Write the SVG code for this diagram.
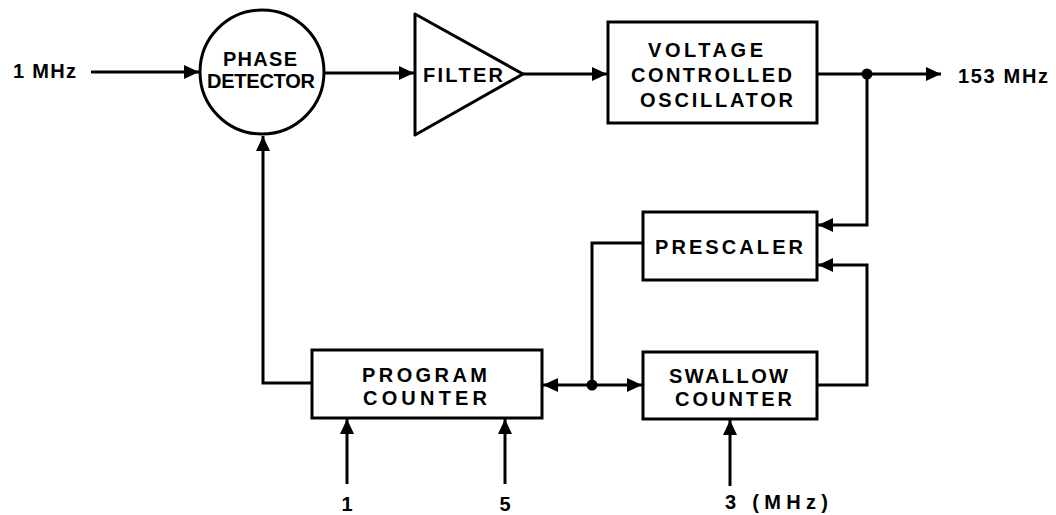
<svg xmlns="http://www.w3.org/2000/svg" width="1056" height="515" viewBox="0 0 1056 515">
<style>
.shape{fill:#fff;stroke:#000;stroke-width:3}
.wire{fill:none;stroke:#000;stroke-width:3}
.t{font-family:"Liberation Sans",Arial,sans-serif;font-weight:bold;font-size:20px;fill:#000}
.dot{fill:#000}
</style>
<defs>
<marker id="ah" markerUnits="userSpaceOnUse" markerWidth="16" markerHeight="15" refX="15" refY="7" orient="auto">
<path d="M0,0 L15,7 L0,14 z" fill="#000"/>
</marker>
</defs>
<rect width="1056" height="515" fill="#fff"/>
<g id="connectors">
<path class="wire" d="M91,72 H199" marker-end="url(#ah)"/>
<path class="wire" d="M324,73 H414" marker-end="url(#ah)"/>
<path class="wire" d="M523,74 H607" marker-end="url(#ah)"/>
<path class="wire" d="M817,74 H941" marker-end="url(#ah)"/>
<path class="wire" d="M867,74 V225 H818" marker-end="url(#ah)"/>
<path class="wire" d="M817,385 H867 V265 H818" marker-end="url(#ah)"/>
<path class="wire" d="M643,243 H592 V385"/>
<path class="wire" d="M592,385 H543" marker-end="url(#ah)"/>
<path class="wire" d="M592,385 H642" marker-end="url(#ah)"/>
<path class="wire" d="M312,383 H263 V136" marker-end="url(#ah)"/>
<path class="wire" d="M347,484 V419" marker-end="url(#ah)"/>
<path class="wire" d="M505,484 V419" marker-end="url(#ah)"/>
<path class="wire" d="M730,486 V420" marker-end="url(#ah)"/>
<circle class="dot" cx="867" cy="74" r="5.5"/>
<circle class="dot" cx="592" cy="385" r="5.5"/>
</g>
<g id="in1">
<text class="t" x="13" y="78" font-size="18" textLength="63" lengthAdjust="spacing">1 MHz</text>
</g>
<g id="phase-detector">
<circle class="shape" cx="262" cy="72" r="62"/>
<text class="t" x="223" y="66" textLength="74" lengthAdjust="spacing">PHASE</text>
<text class="t" x="207" y="88" textLength="108" lengthAdjust="spacing">DETECTOR</text>
</g>
<g id="filter">
<path class="shape" d="M415,14 L415,135 L523,74 z" stroke-linejoin="round"/>
<text class="t" x="423" y="82" textLength="80" lengthAdjust="spacing">FILTER</text>
</g>
<g id="vco">
<rect class="shape" x="608" y="22" width="209" height="101"/>
<text class="t" x="648" y="57" textLength="115" lengthAdjust="spacing">VOLTAGE</text>
<text class="t" x="631" y="82" textLength="161" lengthAdjust="spacing">CONTROLLED</text>
<text class="t" x="640" y="107" textLength="153" lengthAdjust="spacing">OSCILLATOR</text>
</g>
<g id="out153">
<text class="t" x="958" y="83" font-size="18" textLength="90" lengthAdjust="spacing">153 MHz</text>
</g>
<g id="prescaler">
<rect class="shape" x="643" y="212" width="174" height="68"/>
<text class="t" x="655" y="254" textLength="148" lengthAdjust="spacing">PRESCALER</text>
</g>
<g id="program-counter">
<rect class="shape" x="312" y="350" width="230" height="68"/>
<text class="t" x="362" y="382" textLength="125" lengthAdjust="spacing">PROGRAM</text>
<text class="t" x="363" y="405" textLength="124" lengthAdjust="spacing">COUNTER</text>
</g>
<g id="swallow-counter">
<rect class="shape" x="643" y="352" width="174" height="67"/>
<text class="t" x="669" y="383" textLength="119" lengthAdjust="spacing">SWALLOW</text>
<text class="t" x="675" y="406" textLength="117" lengthAdjust="spacing">COUNTER</text>
</g>
<g id="labels">
<text class="t" x="347" y="511" text-anchor="middle">1</text>
<text class="t" x="505" y="511" text-anchor="middle">5</text>
<text class="t" x="725" y="509" textLength="103" lengthAdjust="spacing">3 (MHz)</text>
</g>
</svg>
